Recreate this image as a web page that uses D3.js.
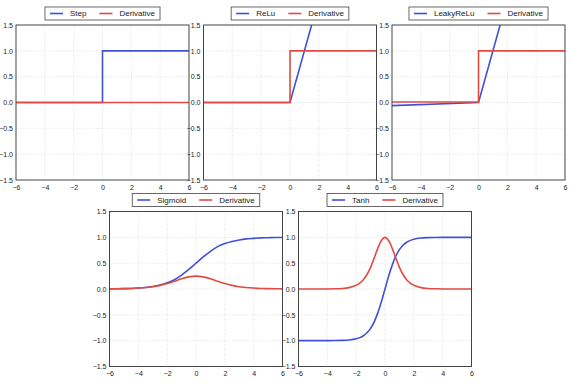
<!DOCTYPE html>
<html>
<head>
<meta charset="utf-8">
<script src="https://cdn.jsdelivr.net/npm/d3@7"></script>
<style>
  body { margin: 0; background: #fff; }
  svg { font-family: "Liberation Sans", Arial, sans-serif; }
</style>
</head>
<body>
<div id="chart"></div>
<script>
// axis ticks
var xTicks = [-6, -4, -2, 0, 2, 4, 6];
var yTicks = [-1.5, -1.0, -0.5, 0.0, 0.5, 1.0, 1.5];

// step
var stepX = [-6, 0, 0, 6];
var stepY = [0, 0, 1, 1];
var stepDx = [-6, 6];
var stepDy = [0, 0];

// relu
var reluX = [-6, 0, 6];
var reluY = [0, 0, 6];
var reluDx = [-6, 0, 0, 6];
var reluDy = [0, 0, 1, 1];

// leaky relu
var leakyX = [-6, 0, 6];
var leakyY = [-0.06, 0, 6];
var leakyDx = [-6, 0, 0, 6];
var leakyDy = [0.01, 0.01, 1, 1];

// sigmoid, read every 0.5
var curveX = [-6, -5.5, -5, -4.5, -4, -3.5, -3, -2.5, -2, -1.5, -1, -0.5, 0, 0.5, 1, 1.5, 2, 2.5, 3, 3.5, 4, 4.5, 5, 5.5, 6];
var sigmoidY = [0.003, 0.004, 0.007, 0.011, 0.018, 0.029, 0.047, 0.076, 0.12, 0.18, 0.27, 0.38, 0.5, 0.62, 0.73, 0.82, 0.88, 0.92, 0.95, 0.97, 0.98, 0.99, 0.993, 0.996, 0.998];
var sigmoidDy = [0.003, 0.004, 0.007, 0.011, 0.018, 0.028, 0.045, 0.07, 0.105, 0.15, 0.2, 0.235, 0.25, 0.235, 0.2, 0.15, 0.105, 0.07, 0.045, 0.028, 0.018, 0.011, 0.007, 0.004, 0.003];

// tanh, denser near the middle
var tanhX = [-6, -5, -4, -3.5, -3, -2.5, -2, -1.75, -1.5, -1.25, -1, -0.75, -0.5, -0.25, 0, 0.25, 0.5, 0.75, 1, 1.25, 1.5, 1.75, 2, 2.5, 3, 3.5, 4, 5, 6];
var tanhY = [-1, -1, -0.999, -0.998, -0.995, -0.987, -0.964, -0.941, -0.905, -0.848, -0.762, -0.635, -0.462, -0.245, 0, 0.245, 0.462, 0.635, 0.762, 0.848, 0.905, 0.941, 0.964, 0.987, 0.995, 0.998, 0.999, 1, 1];
var tanhDy = [0, 0, 0.001, 0.004, 0.01, 0.027, 0.071, 0.115, 0.181, 0.281, 0.42, 0.597, 0.787, 0.94, 1, 0.94, 0.787, 0.597, 0.42, 0.281, 0.181, 0.115, 0.071, 0.027, 0.01, 0.004, 0.001, 0, 0];

var blue = "#3f51da";
var red = "#e24a42";

var panels = [
  {name: "Step", fx: stepX, fy: stepY, dx: stepDx, dy: stepDy, smooth: false, left: 16, top: 25},
  {name: "ReLu", fx: reluX, fy: reluY, dx: reluDx, dy: reluDy, smooth: false, left: 203.5, top: 25},
  {name: "LeakyReLu", fx: leakyX, fy: leakyY, dx: leakyDx, dy: leakyDy, smooth: false, left: 392, top: 25},
  {name: "Sigmoid", fx: curveX, fy: sigmoidY, dx: curveX, dy: sigmoidDy, smooth: true, left: 109.5, top: 211.5},
  {name: "Tanh", fx: tanhX, fy: tanhY, dx: tanhX, dy: tanhDy, smooth: true, left: 298.5, top: 211.5}
];

var plotW = 173, plotH = 155;

var svg = d3.select("#chart").append("svg")
  .attr("width", 571)
  .attr("height", 388);

function zip(xs, ys) {
  return xs.map(function(x, i) { return [x, ys[i]]; });
}

function drawPanel(p, idx) {
  var g = svg.append("g").attr("transform", "translate(" + p.left + "," + p.top + ")");

  var x = d3.scaleLinear().domain([-6, 6]).range([0, plotW]);
  var y = d3.scaleLinear().domain([-1.5, 1.5]).range([plotH, 0]);

  g.append("clipPath").attr("id", "clip" + idx)
    .append("rect").attr("width", plotW).attr("height", plotH);

  // grid
  g.append("g").selectAll("line.gx").data(xTicks.slice(1, -1)).enter()
    .append("line")
    .attr("x1", function(d) { return x(d); }).attr("x2", function(d) { return x(d); })
    .attr("y1", 0).attr("y2", plotH)
    .attr("stroke", "#cfcfcf").attr("stroke-width", 0.6).attr("stroke-dasharray", "1,1.5");
  g.append("g").selectAll("line.gy").data(yTicks.slice(1, -1)).enter()
    .append("line")
    .attr("y1", function(d) { return y(d); }).attr("y2", function(d) { return y(d); })
    .attr("x1", 0).attr("x2", plotW)
    .attr("stroke", "#cfcfcf").attr("stroke-width", 0.6).attr("stroke-dasharray", "1,1.5");

  // axes labels
  var xAxis = d3.axisBottom(x).tickValues(xTicks).tickSize(0).tickPadding(5)
    .tickFormat(function(d) { return d3.format("d")(d).replace("-", "\u2212"); });
  var yAxis = d3.axisLeft(y).tickValues(yTicks).tickSize(0).tickPadding(3)
    .tickFormat(function(d) { return d3.format(".1f")(d).replace("-", "\u2212"); });

  var gx = g.append("g").attr("transform", "translate(0," + plotH + ")").call(xAxis);
  var gy = g.append("g").call(yAxis);
  [gx, gy].forEach(function(a) {
    a.select(".domain").remove();
    a.selectAll("text").attr("font-size", 7).attr("fill", "#222").attr("font-family", null);
  });

  var line = d3.line()
    .x(function(d) { return x(d[0]); })
    .y(function(d) { return y(d[1]); });
  if (p.smooth) line.curve(d3.curveMonotoneX);

  var lines = g.append("g").attr("clip-path", "url(#clip" + idx + ")");
  lines.append("path").datum(zip(p.fx, p.fy))
    .attr("d", line).attr("fill", "none")
    .attr("stroke", blue).attr("stroke-width", 1.6);
  var dline = d3.line()
    .x(function(d) { return x(d[0]); })
    .y(function(d) { return y(d[1]); })
    .curve(p.smooth ? d3.curveCatmullRom : d3.curveLinear);
  lines.append("path").datum(zip(p.dx, p.dy))
    .attr("d", dline).attr("fill", "none")
    .attr("stroke", red).attr("stroke-width", 1.6);

  // frame
  g.append("rect").attr("width", plotW).attr("height", plotH)
    .attr("fill", "none").attr("stroke", "#444").attr("stroke-width", 1);

  // legend
  var leg = g.append("g");
  var box = leg.append("rect").attr("fill", "#fff").attr("stroke", "#444").attr("stroke-width", 0.8);
  var items = [[p.name, blue], ["Derivative", red]];
  var cx = 5;
  items.forEach(function(it, i) {
    leg.append("line").attr("x1", cx).attr("x2", cx + 13).attr("y1", 0).attr("y2", 0)
      .attr("stroke", it[1]).attr("stroke-width", 1.6);
    cx += 20;
    var t = leg.append("text").attr("x", cx).attr("y", 2.9)
      .attr("font-size", 8).attr("fill", "#222").text(it[0]);
    cx += t.node().getComputedTextLength() + (i == 0 ? 13 : 5);
  });
  box.attr("x", 0).attr("y", -6.5).attr("width", cx).attr("height", 13);
  leg.attr("transform", "translate(" + (plotW / 2 - cx / 2) + "," + (-11.5) + ")");
}

panels.forEach(drawPanel);
</script>
</body>
</html>
